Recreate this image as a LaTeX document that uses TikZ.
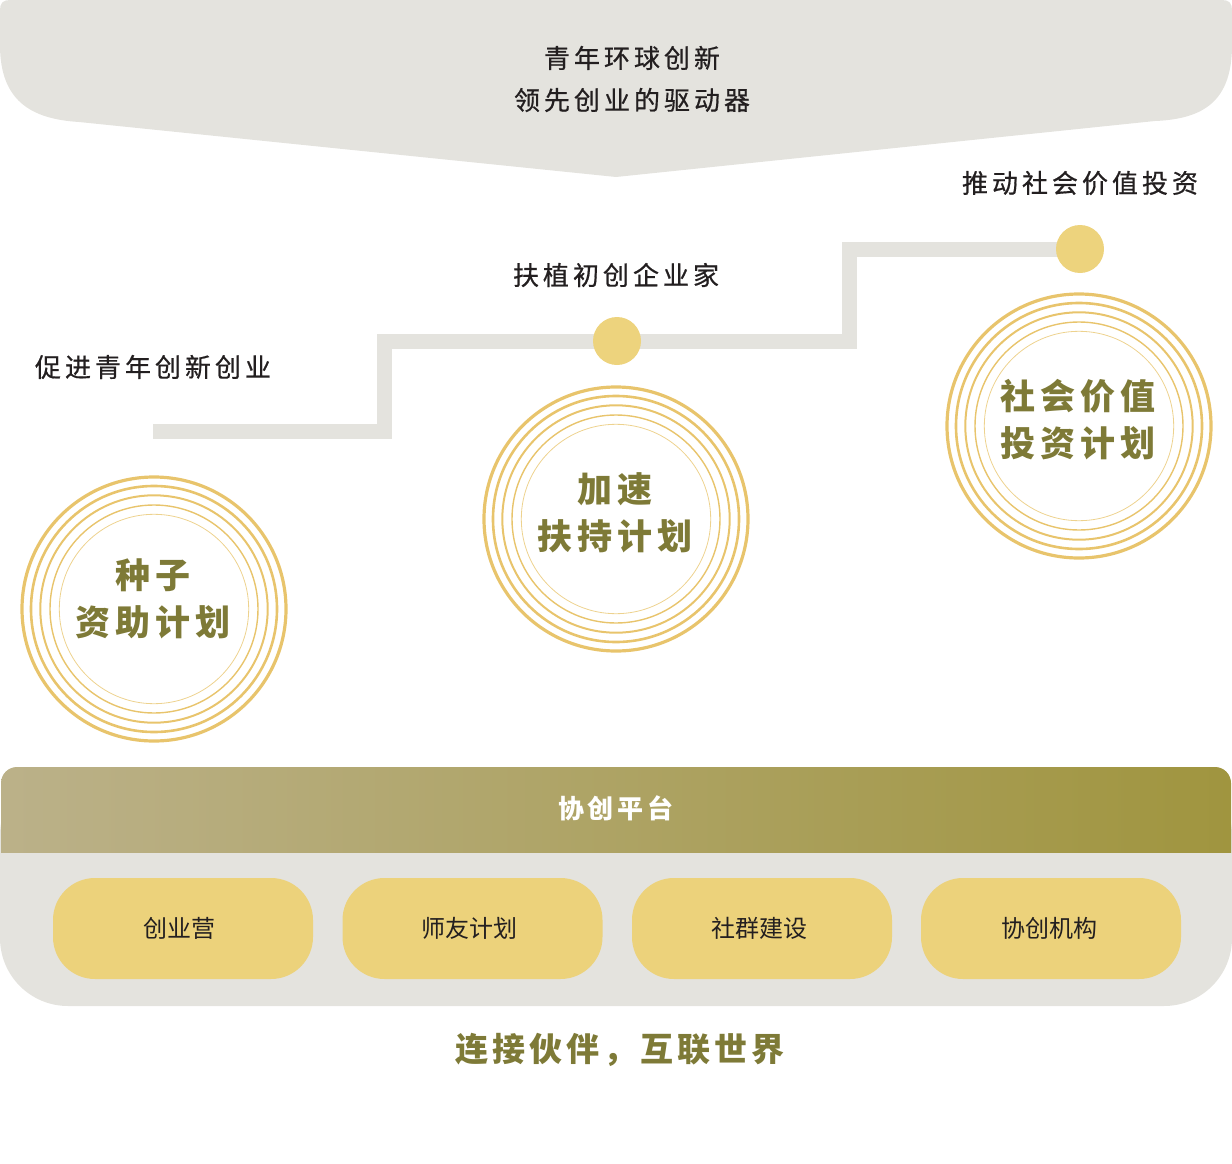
\documentclass[tikz,border=0pt]{standalone}
\usepackage{fontspec}
\setmainfont{Noto Sans CJK SC}
\newfontfamily\cjkmed[FakeBold=0.6]{Noto Sans CJK SC}
\definecolor{bannergray}{HTML}{E4E3DE}
\definecolor{stepgray}{HTML}{E4E3DE}
\definecolor{dotgold}{HTML}{EDD37D}
\definecolor{pillgold}{HTML}{ECD27B}
\definecolor{ringgold}{HTML}{E8C46C}
\definecolor{ringlight}{HTML}{EDD28E}
\definecolor{olivetext}{HTML}{7E7A37}
\definecolor{ink}{HTML}{231F20}
\definecolor{bandL}{HTML}{BBB189}
\definecolor{bandR}{HTML}{A0953F}
\makeatletter
\newcommand\trk[2]{\begingroup\def\trk@sep{}\@tfor\trk@c:=#2\do{\trk@sep\trk@c\def\trk@sep{\hspace{#1}}}\endgroup}
\makeatother
\pgfdeclarelayer{back}
\pgfsetlayers{back,main}
\begin{document}
\begin{tikzpicture}[x=1pt,y=-1pt,
  lbl/.style={text=ink, font=\cjkmed\fontsize{26pt}{42pt}\selectfont, inner sep=0, align=center},
  ctext/.style={text=olivetext, font=\bfseries\fontsize{35pt}{47pt}\selectfont, align=center, inner sep=0},
  dotnode/.style={circle, fill=dotgold, minimum size=48pt, inner sep=0},
  ringnode/.style={circle, draw=ringgold, line width=3.2pt, minimum size=264pt, inner sep=0},
  stepline/.style={draw=stepgray, line width=15pt, line join=miter},
  pill/.style={fill=pillgold, rounded corners=42pt, minimum width=260pt, minimum height=101pt, inner sep=0, text=ink, font=\fontsize{24pt}{28pt}\selectfont}]
\useasboundingbox (0,0) rectangle (1232,1164);
% top banner
\fill[bannergray] (0,10) .. controls (0,3) and (3,0) .. (10,0) -- (1222,0) .. controls (1229,0) and (1232,3) .. (1232,10)
  -- (1232,45) .. controls (1232,100) and (1205,119) .. (1155,121) -- (616,177) -- (79,122)
  .. controls (30,119) and (0,100) .. (0,45) -- cycle;
\node[lbl] (title) at (632,79) {\trk{4pt}{青年环球创新}\\\trk{4pt}{领先创业的驱动器}};
% stage labels
\node[lbl] (l1) at (153,367) {\trk{4pt}{促进青年创新创业}};
\node[lbl] (l2) at (616,275) {\trk{4pt}{扶植初创企业家}};
\node[lbl] (l3) at (1080,183) {\trk{4pt}{推动社会价值投资}};
% dots and steps
\node[dotnode] (d1) at (617,341) {};
\node[dotnode] (d2) at (1080,249) {};
\coordinate (s0) at (153,431);
\coordinate (k1) at (384,431);
\coordinate (k2) at (384,341);
\coordinate (k3) at (849,341);
\coordinate (k4) at (849,249);
\begin{pgfonlayer}{back}
\draw[stepline] (s0) -- (k1) -- (k2) -- (d1.center) -- (k3) -- (k4) -- (d2.center);
\end{pgfonlayer}
% ring circles
\foreach \n/\cx/\cy in {c1/154/609, c2/616/519, c3/1079/426}{
  \node[ringnode] (\n) at (\cx,\cy) {};
  \draw[ringgold, line width=2.6pt] (\n.center) circle[radius=123pt];
  \draw[ringgold, line width=2.0pt] (\n.center) circle[radius=113.7pt];
  \draw[ringgold, line width=1.4pt] (\n.center) circle[radius=104pt];
  \draw[ringlight, line width=0.8pt] (\n.center) circle[radius=94.7pt];
}
\node[ctext] (t1) at (153,598.5) {\trk{5pt}{种子}\\\trk{5pt}{资助计划}};
\node[ctext] (t2) at (615,512.5) {\trk{5pt}{加速}\\\trk{5pt}{扶持计划}};
\node[ctext] (t3) at (1078,419.5) {\trk{5pt}{社会价值}\\\trk{5pt}{投资计划}};
% platform
\fill[bannergray, rounded corners=68pt] (0,767) rectangle (1232,1006);
\begin{scope}
\clip (0,760) rectangle (1232,852);
\shade[left color=bandL, right color=bandR, rounded corners=16pt] (1,767) rectangle (1231,900);
\end{scope}
\node[text=white, font=\bfseries\fontsize{26pt}{30pt}\selectfont, inner sep=0] (band) at (616,808) {\trk{4pt}{协创平台}};
\node[pill] (p1) at (183,928.5) {\hspace*{-8pt}创业营};
\node[pill] (p2) at (472.5,928.5) {\hspace*{-6pt}师友计划};
\node[pill] (p3) at (762,928.5) {\hspace*{-6pt}社群建设};
\node[pill] (p4) at (1051,928.5) {\hspace*{-4pt}协创机构};
\node[text=olivetext, font=\bfseries\fontsize{33pt}{36pt}\selectfont, inner sep=0] (tag) at (620,1050) {\trk{4pt}{连接伙伴，互联世界}};
\end{tikzpicture}
\end{document}
